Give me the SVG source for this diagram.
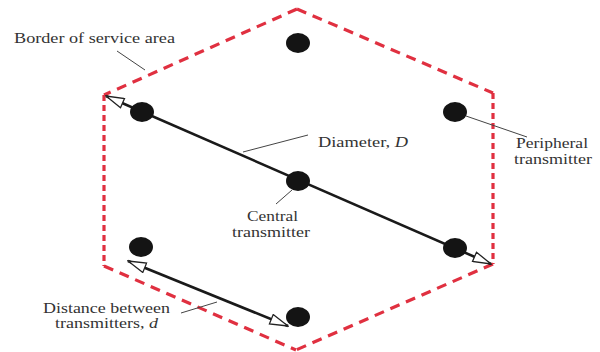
<svg xmlns="http://www.w3.org/2000/svg" width="600" height="352" viewBox="0 0 600 352">
<style>
.t{font-family:"Liberation Serif","Times New Roman",serif;font-size:14px;fill:#333}
.b{fill:none;stroke:#e03040;stroke-width:3.2}
.d{stroke-dasharray:10 7}
.v{stroke-dasharray:6 4}
.dot{fill:#141414}
.ln{stroke:#1a1a1a;stroke-width:2.6;fill:none}
.ld{stroke:#444;stroke-width:1;fill:none}
</style>
<defs>
<marker id="ah" viewBox="0 0 20 12" refX="19" refY="6" markerWidth="20" markerHeight="12" markerUnits="userSpaceOnUse" orient="auto-start-reverse">
<path d="M1,1 L19,6 L1,11 Z" fill="#fff" stroke="#222" stroke-width="1.3"/>
</marker>
</defs>
<rect width="600" height="352" fill="#fff"/>
<g id="border">
<path class="b d" d="M297,9 L104,95"/>
<path class="b v" d="M104,95 L104,266"/>
<path class="b d" d="M104,266 L296,350"/>
<path class="b d" d="M493,264 L296,350"/>
<path class="b v" d="M493,93 L493,264"/>
<path class="b d" d="M297,9 L493,93"/>
</g>
<g id="connectors">
<path class="ln" d="M106,96 L491,264" marker-start="url(#ah)" marker-end="url(#ah)"/>
<path class="ln" d="M128,261 L288,326" marker-start="url(#ah)" marker-end="url(#ah)"/>
<path class="ld" d="M117,51 L145,70"/>
<path class="ld" d="M243,152 L308,135"/>
<path class="ld" d="M466,116 L527,137"/>
<path class="ld" d="M292,190 L276,204"/>
<path class="ld" d="M181,313 L217,302"/>
</g>
<g id="tx-top"><ellipse class="dot" cx="298" cy="43" rx="12" ry="10"/></g>
<g id="tx-upper-left"><ellipse class="dot" cx="142" cy="112" rx="12" ry="10"/></g>
<g id="tx-upper-right"><ellipse class="dot" cx="455" cy="112" rx="12" ry="10"/></g>
<g id="tx-center"><ellipse class="dot" cx="298" cy="181" rx="12" ry="10"/></g>
<g id="tx-lower-left"><ellipse class="dot" cx="141" cy="247" rx="12" ry="10"/></g>
<g id="tx-lower-right"><ellipse class="dot" cx="455" cy="248" rx="12" ry="10"/></g>
<g id="tx-bottom"><ellipse class="dot" cx="298" cy="317" rx="12" ry="10"/></g>
<g id="labels">
<text class="t" x="14" y="43" textLength="161" lengthAdjust="spacingAndGlyphs">Border of service area</text>
<text class="t" x="318" y="147" textLength="90" lengthAdjust="spacingAndGlyphs">Diameter, <tspan font-style="italic">D</tspan></text>
<text class="t" x="516" y="148" textLength="72" lengthAdjust="spacingAndGlyphs">Peripheral</text>
<text class="t" x="514" y="164" textLength="78" lengthAdjust="spacingAndGlyphs">transmitter</text>
<text class="t" x="247" y="221" textLength="51" lengthAdjust="spacingAndGlyphs">Central</text>
<text class="t" x="232" y="237" textLength="78" lengthAdjust="spacingAndGlyphs">transmitter</text>
<text class="t" x="43" y="313" textLength="127" lengthAdjust="spacingAndGlyphs">Distance between</text>
<text class="t" x="55" y="328" textLength="103" lengthAdjust="spacingAndGlyphs">transmitters, <tspan font-style="italic">d</tspan></text>
</g>
</svg>
